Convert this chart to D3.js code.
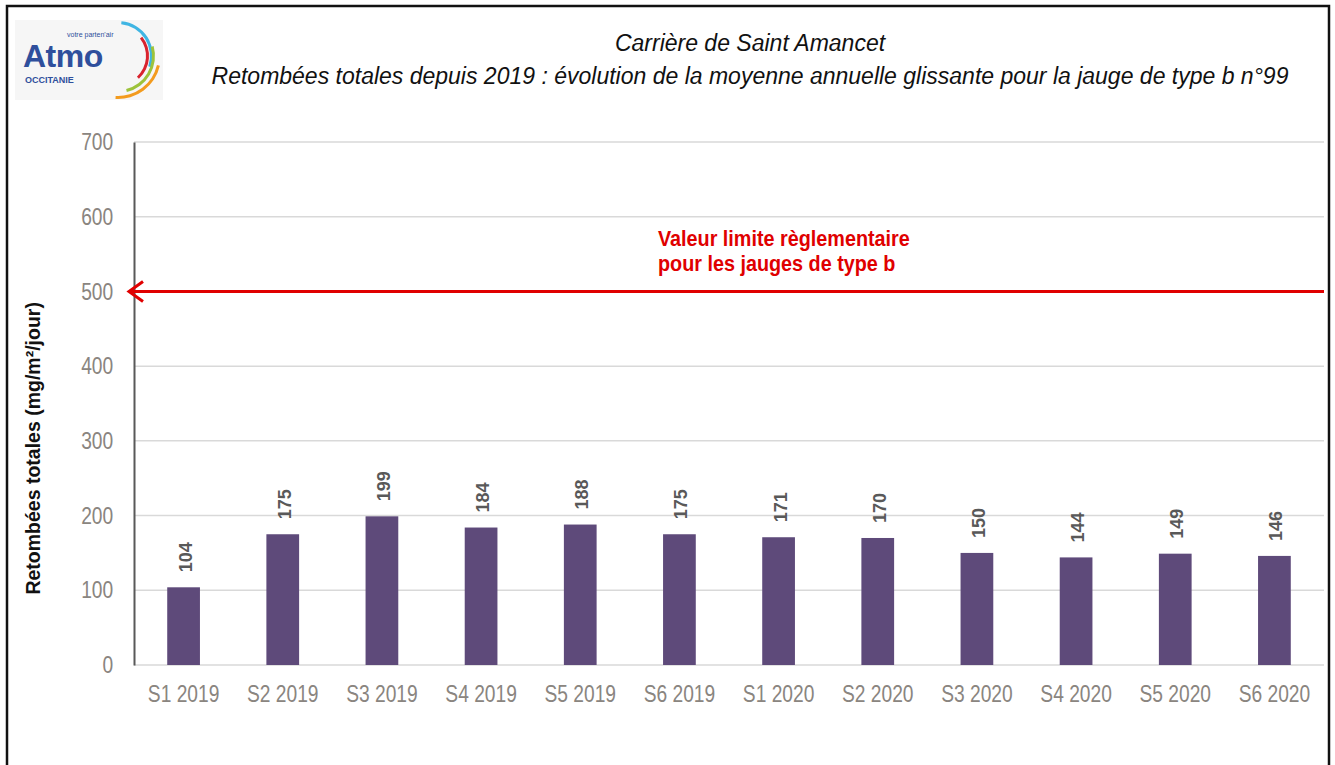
<!DOCTYPE html>
<html>
<head>
<meta charset="utf-8">
<script src="https://cdn.jsdelivr.net/npm/d3@7"></script>
<style>
  body { margin: 0; background: white; }
  svg { display: block; }
</style>
</head>
<body>
<div id="chart"></div>
<script>
const categories = ["S1 2019", "S2 2019", "S3 2019", "S4 2019", "S5 2019", "S6 2019",
                    "S1 2020", "S2 2020", "S3 2020", "S4 2020", "S5 2020", "S6 2020"]
const values = [104, 175, 199, 184, 188, 175, 171, 170, 150, 144, 149, 146]
const yTicks = [0, 100, 200, 300, 400, 500, 600, 700]
const limitValue = 500
const titleLines = ["Carrière de Saint Amancet",
                    "Retombées totales depuis 2019 : évolution de la moyenne annuelle glissante pour la jauge de type b n°99"]
const limitLabel = ["Valeur limite règlementaire", "pour les jauges de type b"]

const width = 1335, height = 765
const sans = "'Liberation Sans', Arial, sans-serif"
const tickGray = "#8a8580"

let svg = d3.select("#chart").append("svg")
    .attr("width", width)
    .attr("height", height)

// outer frame
svg.append("rect")
    .attr("x", 7).attr("y", 6)
    .attr("width", 1322).attr("height", 780)
    .attr("fill", "white")
    .attr("stroke", "#111").attr("stroke-width", 2.5)

// logo
let logo = svg.append("g")
logo.append("rect")
    .attr("x", 15).attr("y", 20).attr("width", 148).attr("height", 80)
    .attr("fill", "#f6f6f6")
logo.append("text")
    .attr("x", 23).attr("y", 67)
    .attr("font-family", sans).attr("font-weight", "bold")
    .attr("font-size", 32).attr("fill", "#2f4f9c")
    .attr("letter-spacing", -0.5)
    .text("Atmo")
logo.append("text")
    .attr("x", 25).attr("y", 83)
    .attr("font-family", sans).attr("font-weight", "bold")
    .attr("font-size", 9).attr("fill", "#2f4f9c")
    .text("OCCITANIE")
logo.append("text")
    .attr("x", 67).attr("y", 37)
    .attr("font-family", sans)
    .attr("font-size", 7).attr("fill", "#2f4f9c")
    .text("votre parten'air")
let arc = d3.arc()
const arcs = [
    {r: 32, a0: 0.1, a1: 1.9, c: "#3fb5e3"},
    {r: 28, a0: 0.9, a1: 2.4, c: "#d9232e"},
    {r: 34, a0: 1.3, a1: 2.9, c: "#9dc33b"},
    {r: 40, a0: 1.8, a1: 3.2, c: "#f39b1e"}
]
logo.selectAll("path.logoarc")
    .data(arcs)
    .enter().append("path")
    .attr("class", "logoarc")
    .attr("transform", "translate(118,56)")
    .attr("d", d => arc({innerRadius: d.r, outerRadius: d.r + 3, startAngle: d.a0, endAngle: d.a1}))
    .attr("fill", d => d.c)

// title
svg.selectAll("text.title")
    .data(titleLines)
    .enter().append("text")
    .attr("class", "title")
    .attr("x", 750)
    .attr("y", (d, i) => 51 + i * 33)
    .attr("text-anchor", "middle")
    .attr("font-family", sans)
    .attr("font-style", "italic")
    .attr("font-size", 23)
    .attr("fill", "#111")
    .text(d => d)

// plot area
const margin = {left: 134, right: 1324, top: 142, bottom: 665}

let x = d3.scaleBand()
    .domain(categories)
    .range([margin.left, margin.right])
    .paddingInner(0.67)
    .paddingOuter(0.335)

let y = d3.scaleLinear()
    .domain([0, 700])
    .range([margin.bottom, margin.top])

// gridlines
svg.append("g")
    .selectAll("line")
    .data(yTicks)
    .enter().append("line")
    .attr("x1", margin.left).attr("x2", margin.right)
    .attr("y1", d => y(d)).attr("y2", d => y(d))
    .attr("stroke", "#d9d9d9")
    .attr("stroke-width", 1.5)

// y axis (condensed look via horizontal squeeze)
let yAxis = svg.append("g")
    .attr("transform", `translate(${margin.left},0)`)
    .call(d3.axisLeft(y).tickValues(yTicks).tickSize(0).tickPadding(26))
yAxis.select(".domain").attr("stroke", "#595959").attr("stroke-width", 2)
yAxis.selectAll("text")
    .attr("font-family", sans)
    .attr("font-size", 24)
    .attr("fill", tickGray)
    .attr("transform", "scale(0.8,1)")

// x axis
let xAxis = svg.append("g")
    .attr("transform", `translate(0,${margin.bottom})`)
    .call(d3.axisBottom(x).tickSize(0).tickPadding(20))
xAxis.select(".domain").remove()
xAxis.selectAll("text")
    .attr("font-family", sans)
    .attr("font-size", 24)
    .attr("fill", tickGray)
    .attr("transform", "scale(0.8,1)")

// bars
svg.append("g")
    .selectAll("rect")
    .data(values)
    .enter().append("rect")
    .attr("x", (d, i) => x(categories[i]))
    .attr("y", d => y(d))
    .attr("width", x.bandwidth())
    .attr("height", d => y(0) - y(d))
    .attr("fill", "#5e4a7a")

// value labels
svg.append("g")
    .selectAll("text")
    .data(values)
    .enter().append("text")
    .attr("transform", (d, i) => `translate(${x(categories[i]) + x.bandwidth() / 2 + 8},${y(d) - 15}) rotate(-90)`)
    .attr("font-family", sans)
    .attr("font-weight", "bold")
    .attr("font-size", 18)
    .attr("fill", "#595959")
    .text(d => d)

// limit line with open arrowhead on the left
const red = "#e00000"
let limitY = y(limitValue)
let tipX = margin.left - 5
svg.append("line")
    .attr("x1", tipX).attr("x2", margin.right)
    .attr("y1", limitY).attr("y2", limitY)
    .attr("stroke", red)
    .attr("stroke-width", 3)
svg.append("path")
    .attr("d", d3.line()([[tipX + 14, limitY - 10], [tipX, limitY], [tipX + 14, limitY + 10]]))
    .attr("fill", "none")
    .attr("stroke", red)
    .attr("stroke-width", 3)

svg.selectAll("text.limit")
    .data(limitLabel)
    .enter().append("text")
    .attr("class", "limit")
    .attr("transform", (d, i) => `translate(658,${246 + i * 25}) scale(0.9,1)`)
    .attr("font-family", sans)
    .attr("font-weight", "bold")
    .attr("font-size", 22)
    .attr("fill", red)
    .text(d => d)

// y axis title
svg.append("text")
    .attr("transform", `translate(40,${y(290)}) rotate(-90)`)
    .attr("text-anchor", "middle")
    .attr("font-family", sans)
    .attr("font-weight", "bold")
    .attr("font-size", 19.5)
    .attr("fill", "#111")
    .text("Retombées totales (mg/m²/jour)")
</script>
</body>
</html>
